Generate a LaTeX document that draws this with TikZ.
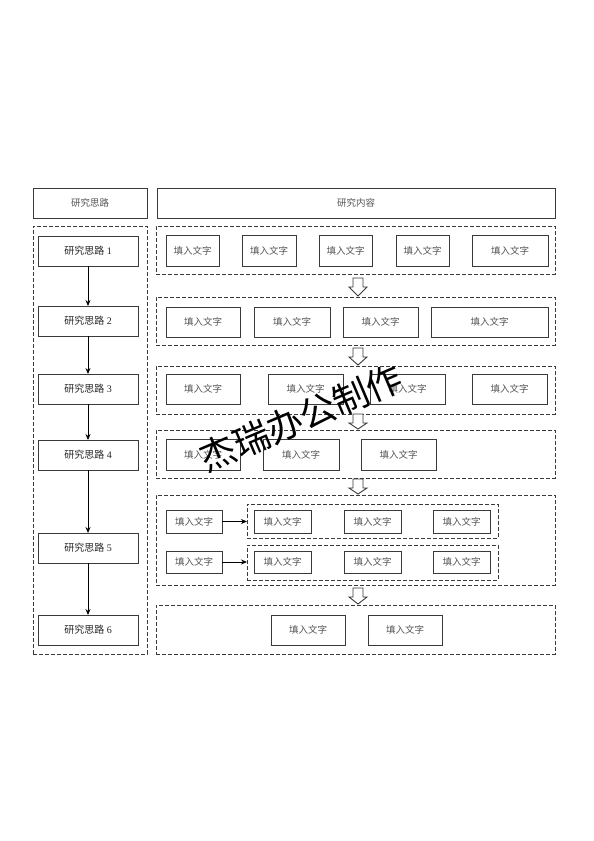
\documentclass[tikz,border=0pt]{standalone}
\usepackage{fontspec}
\setmainfont{Liberation Serif}
\newfontfamily\cjk{Noto Sans CJK SC}
\newfontfamily\cjkmark{Noto Sans CJK SC}
\usetikzlibrary{arrows.meta,calc}
\definecolor{bordergray}{HTML}{3A3A3A}
\definecolor{textgray}{HTML}{555555}
\tikzset{
  box/.style={draw=bordergray, line width=0.9pt, inner sep=0pt, outer sep=0pt,
    font=\fontsize{9.5}{11}\selectfont, text=textgray},
  dbox/.style={draw=bordergray, line width=0.8pt, dash pattern=on 4pt off 2pt,
    inner sep=0pt, outer sep=0pt},
  lbox/.style={box, text=black!85, font=\fontsize{10}{12}\selectfont},
  flow/.style={draw=black, line width=0.8pt, -{Stealth[length=6pt,width=5pt]}},
  barrow/.style={draw=bordergray, line width=0.9pt, fill=white, line join=miter},
}
\newcommand\bx[7][box]{\node[#1, minimum width={(#5-#3)*1pt}, minimum height={(#6-#4)*1pt}] (#2) at ({(#3+#5)/2},{(#4+#6)/2}) {#7};}
\newcommand\tx{{\cjk 填入文字}}
\newcommand\bigarrow[3]{%
  \coordinate (#1) at (358,#2);
  \draw[barrow] ($(#1)+(-5,0)$) -- ($(#1)+(5,0)$) -- ($(#1)+(5,9)$) -- ($(#1)+(9,9)$)
    -- ($(#1)+(0,#3)$) -- ($(#1)+(-9,9)$) -- ($(#1)+(-5,9)$) -- cycle;}
\begin{document}
\begin{tikzpicture}[x=1pt,y=-1pt]
\useasboundingbox (0,0) rectangle (594,841);
\fill[white] (0,0) rectangle (594,841);
% headers
\bx{hl}{33}{188}{147}{218}{\cjk 研究思路}
\bx{hr}{157}{188}{555}{218}{\cjk 研究内容}
% left column
\bx[dbox]{lc}{33}{226}{147}{654}{}
\bx[lbox]{s1}{38}{236}{138}{266}{{\cjk 研究思路} 1}
\bx[lbox]{s2}{38}{306}{138}{336}{{\cjk 研究思路} 2}
\bx[lbox]{s3}{38}{374}{138}{404}{{\cjk 研究思路} 3}
\bx[lbox]{s4}{38}{440}{138}{470}{{\cjk 研究思路} 4}
\bx[lbox]{s5}{38}{533}{138}{563}{{\cjk 研究思路} 5}
\bx[lbox]{s6}{38}{615}{138}{645}{{\cjk 研究思路} 6}
\draw[flow] (s1) -- (s2);
\draw[flow] (s2) -- (s3);
\draw[flow] (s3) -- (s4);
\draw[flow] (s4) -- (s5);
\draw[flow] (s5) -- (s6);
% row 1
\bx[dbox]{r1}{156}{226}{555}{274}{}
\bx{a1}{166}{235}{219}{266}{\tx}
\bx{a2}{242}{235}{296}{266}{\tx}
\bx{a3}{319}{235}{372}{266}{\tx}
\bx{a4}{396}{235}{449}{266}{\tx}
\bx{a5}{472}{235}{548}{266}{\tx}
% row 2
\bx[dbox]{r2}{156}{297}{555}{345}{}
\bx{b1}{166}{307}{240}{337}{\tx}
\bx{b2}{254}{307}{330}{337}{\tx}
\bx{b3}{343}{307}{418}{337}{\tx}
\bx{b4}{431}{307}{548}{337}{\tx}
% row 3
\bx[dbox]{r3}{156}{366}{555}{414}{}
\bx{c1}{166}{374}{240}{404}{\tx}
\bx{c2}{268}{374}{343}{404}{\tx}
\bx{c3}{370}{374}{445}{404}{\tx}
\bx{c4}{472}{374}{547}{404}{\tx}
% row 4
\bx[dbox]{r4}{156}{430}{555}{478}{}
\bx{d1}{166}{439}{240}{470}{\tx}
\bx{d2}{263}{439}{339}{470}{\tx}
\bx{d3}{361}{439}{436}{470}{\tx}
% row 5
\bx[dbox]{r5}{156}{495}{555}{585}{}
\bx[dbox]{g1}{247}{504}{498}{538}{}
\bx[dbox]{g2}{247}{545}{498}{580}{}
\bx{e0}{166}{510}{222}{533}{\tx}
\bx{e1}{254}{510}{311}{533}{\tx}
\bx{e2}{344}{510}{401}{533}{\tx}
\bx{e3}{433}{510}{490}{533}{\tx}
\bx{f0}{166}{551}{222}{573}{\tx}
\bx{f1}{254}{551}{311}{573}{\tx}
\bx{f2}{344}{551}{401}{573}{\tx}
\bx{f3}{433}{551}{490}{573}{\tx}
\draw[flow] (e0.east) -- (g1.west |- e0.east);
\draw[flow] (f0.east) -- (g2.west |- f0.east);
% row 6
\bx[dbox]{r6}{156}{605}{555}{654}{}
\bx{h1}{271}{615}{345}{645}{\tx}
\bx{h2}{368}{615}{442}{645}{\tx}
% block arrows
\bigarrow{k1}{278}{18}
\bigarrow{k2}{348}{17}
\bigarrow{k3}{414}{15}
\bigarrow{k4}{479}{15}
\bigarrow{k5}{588}{16}
% watermark
\node[font=\cjkmark\fontsize{36}{36}\selectfont, text=black, rotate=23, inner sep=0pt] (wm) at (301,418) {杰瑞办公制作};
\end{tikzpicture}
\end{document}
